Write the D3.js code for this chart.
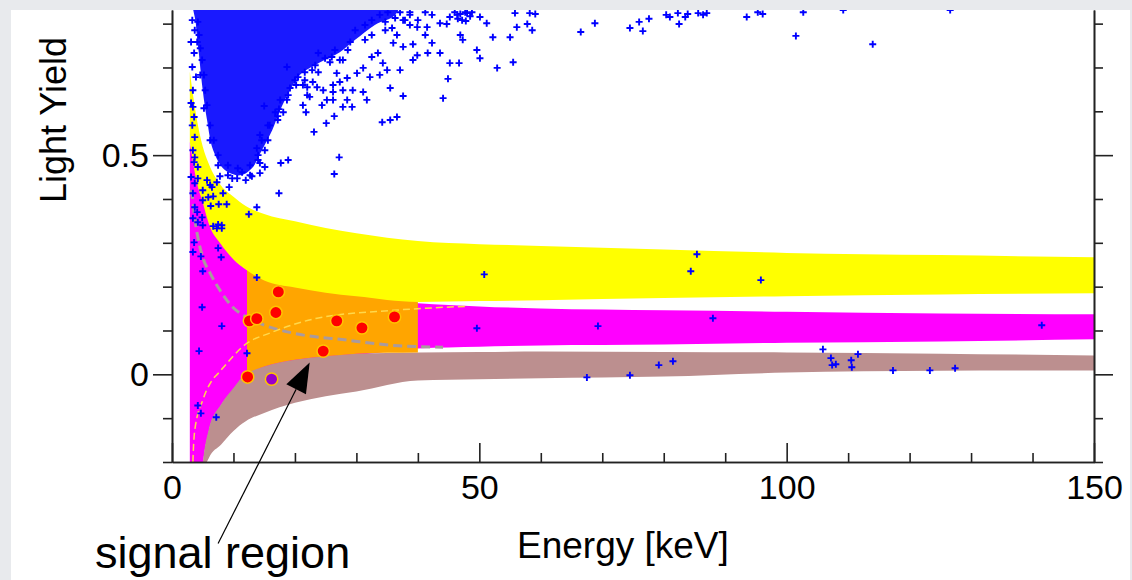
<!DOCTYPE html>
<html>
<head>
<meta charset="utf-8">
<script src="https://cdn.jsdelivr.net/npm/d3@7"></script>
<style>
body{margin:0;background:#e8eaed;}
svg{display:block;font-family:"Liberation Sans",Arial,sans-serif;}
</style>
</head>
<body>
<div id="container"></div>
<script>
let w = 1132;
let h = 580;

// band edges (energy in keV -> light yield)
let bandE     = [2.9, 4, 5, 6, 8, 10, 12, 15, 20, 25, 30, 40, 50, 60, 80, 100, 125, 150];
let yellowHi  = [0.69, 0.585, 0.52, 0.48, 0.43, 0.405, 0.384, 0.366, 0.349, 0.334, 0.322, 0.304, 0.297, 0.293, 0.285, 0.277, 0.272, 0.267];
let yellowLo  = [0.53, 0.44, 0.392, 0.343, 0.296, 0.262, 0.239, 0.214, 0.198, 0.186, 0.178, 0.165, 0.167, 0.169, 0.174, 0.178, 0.182, 0.185];
let magentaHi = [0.53, 0.45, 0.40, 0.35, 0.30, 0.265, 0.24, 0.215, 0.195, 0.183, 0.175, 0.162, 0.155, 0.150, 0.146, 0.143, 0.139, 0.137];
let magentaLo = [-0.4, -0.4, -0.21, -0.13, -0.07, -0.035, 0.0, 0.015, 0.03, 0.038, 0.044, 0.059, 0.063, 0.066, 0.068, 0.072, 0.075, 0.080];
let brownHi   = [-0.6, -0.4, -0.205, -0.125, -0.068, -0.031, 0.002, 0.018, 0.033, 0.041, 0.047, 0.050, 0.051, 0.052, 0.051, 0.050, 0.047, 0.043];
let brownLo   = [-0.8, -0.5, -0.23, -0.191, -0.16, -0.129, -0.107, -0.088, -0.065, -0.050, -0.039, -0.014, -0.011, -0.009, -0.005, 0.004, 0.008, 0.009];

// signal (acceptance) region
let orangeE  = [12.2, 15, 20, 25, 30, 35, 40];
let orangeHi = [0.243, 0.218, 0.202, 0.19, 0.182, 0.174, 0.169];
let orangeLo = [0.004, 0.018, 0.033, 0.041, 0.047, 0.049, 0.050];

// dashed curves
let greyDashE    = [3.1, 3.4, 3.7, 4.2, 5.0, 6.2, 7.8, 9.9, 12.2, 14.3, 19.7, 28.5, 36.0, 44.1];
let greyDashLY   = [0.42, 0.397, 0.358, 0.313, 0.267, 0.231, 0.192, 0.153, 0.130, 0.116, 0.094, 0.078, 0.066, 0.062];
let yellowDashE  = [3.3, 3.4, 3.7, 5.0, 6.5, 7.5, 12.2, 15.9, 23.6, 36.0, 47.7];
let yellowDashLY = [-0.25, -0.2, -0.128, -0.059, -0.014, 0.002, 0.071, 0.094, 0.128, 0.146, 0.155];

// accepted events
let candE   = [17.3, 16.9, 12.6, 13.8, 26.8, 30.9, 36.2, 24.6, 12.3];
let candLY  = [0.188, 0.141, 0.122, 0.127, 0.122, 0.106, 0.131, 0.053, -0.006];
let purpleE  = [16.2];
let purpleLY = [-0.011];

// dense core of the e/gamma cloud (outline)
let coreE  = [3.9, 37.1, 36.3, 33.0, 29.8, 27.3, 24.1, 20.8, 19.2, 17.6, 16.3, 14.6, 13.0, 11.1, 8.6, 6.7, 5.7, 5.0, 4.4, 3.9];
let coreLY = [0.865, 0.865, 0.820, 0.797, 0.763, 0.735, 0.712, 0.683, 0.648, 0.603, 0.557, 0.511, 0.470, 0.454, 0.466, 0.511, 0.580, 0.648, 0.728, 0.797];

// single events in the bands
let bandCrosses = [
  [50.8,0.228],[85.4,0.274],[84.4,0.235],[95.8,0.215],[49.6,0.105],[69.3,0.110],[88.0,0.128],[67.5,-0.007],[74.5,-0.002],[79.2,0.021],[81.5,0.030],
  [141.5,0.112],[105.9,0.057],[107.2,0.037],[107.4,0.021],[108.0,0.023],[110.5,0.032],[111.6,0.046],[110.6,0.016],[117.3,0.009],[123.3,0.009],[127.4,0.014],
  [13.8,0.381],[12.5,0.365],[8.9,0.388],[7.6,0.388],[6.3,0.384],
  [7.5,0.342],[8.1,0.340],[7.3,0.333],[8.1,0.333],[6.7,0.338],
  [3.7,0.381],[4.1,0.370],[3.4,0.356],[4.9,0.358],[4.2,0.347],[5.0,0.340],
  [3.6,0.301],[3.4,0.279],[4.7,0.269],[7.5,0.288],[8.0,0.267],[5.0,0.235],[13.8,0.221],[4.9,0.153],[8.1,0.110],[4.4,0.053],[12.2,0.048],[4.2,-0.071],[4.7,-0.089],[7.2,-0.098]
];

// events around the dense cloud
let cloudCrosses = [
  [3.3,0.808],[3.7,0.785],[3.1,0.758],[3.6,0.733],[3.3,0.701],[3.9,0.678],[3.4,0.648],[3.1,0.619],
  [3.4,0.610],[3.6,0.587],[3.3,0.568],[3.7,0.541],[3.4,0.511],[3.6,0.484],[3.1,0.450],[3.7,0.436],[3.4,0.413],
  [3.7,0.495],[4.2,0.473],[5.7,0.443],[6.2,0.432],[7.8,0.452],[6.7,0.406],[4.2,0.447],[5.0,0.397],
  [15.0,0.612],[15.9,0.568],[17.2,0.589],[17.4,0.605],[14.3,0.546],[13.8,0.516],[14.3,0.482],[15.1,0.473],[13.0,0.452],[11.4,0.461],[10.6,0.447],[9.3,0.427],[9.1,0.454],[7.3,0.438],[8.3,0.413],[5.9,0.404],[6.5,0.427],[5.0,0.420],[14.3,0.459],[18.9,0.489],[17.7,0.482],[17.4,0.413],[23.1,0.553],[27.2,0.495],[26.4,0.457],[21.3,0.614],[21.8,0.598],[24.4,0.614],[25.1,0.573],[26.4,0.589],[27.8,0.610],
  [42.3,0.820],[43.6,0.801],[44.7,0.799],[41.5,0.792],[39.9,0.792],[38.7,0.797],[37.6,0.808],[41.2,0.774],[42.3,0.756],[39.2,0.753],[41.6,0.733],[43.6,0.733],[47.3,0.763],[46.9,0.774],[49.6,0.740],[50.1,0.721],[45.2,0.710],[46.7,0.710],[52.9,0.699],[44.9,0.674],[44.1,0.630],[37.6,0.635],[35.5,0.653],[33.8,0.683],[32.2,0.678],[31.1,0.644],[31.7,0.626],[29.4,0.648],[28.5,0.626],[27.8,0.648],[26.2,0.644],[24.6,0.648],[23.6,0.655],[22.0,0.655],[22.4,0.633],[26.2,0.626],[29.3,0.610],[39.2,0.717],[39.9,0.728],[37.1,0.694],[35.0,0.694],[36.0,0.756],[37.6,0.747],[36.6,0.774],[33.5,0.733],[34.3,0.710],[32.5,0.724],[31.1,0.699],[30.1,0.687],[28.5,0.676],[27.3,0.667],[52.2,0.769],[51.2,0.801],[50.1,0.815],[46.4,0.820],[48.0,0.824],[47.2,0.808],
  [21.3,0.660],[22.9,0.667],[26.2,0.660],[25.2,0.626],[22.0,0.637],[18.9,0.637],[20.5,0.678],[23.8,0.689],[26.8,0.687],[27.8,0.717],[18.7,0.701],[26.0,0.724],[23.8,0.733],
  [68.8,0.801],[66.5,0.781],[74.5,0.790],[76.0,0.804],[76.6,0.783],[77.6,0.811],[80.4,0.820],[81.0,0.815],[82.3,0.824],[82.5,0.799],[83.5,0.815],[83.9,0.822],[85.6,0.824],[86.4,0.820],[87.0,0.824],[93.5,0.815],[95.3,0.826],[96.1,0.822],[101.5,0.772],[55.5,0.712],[55.0,0.769],[56.1,0.792],[57.8,0.799],[58.6,0.785],[55.8,0.824],[58.2,0.824],[59.1,0.822],
  [102.7,0.826],[109.2,0.831],[126.6,0.831],[114.0,0.753],
  [34.2,0.575],[35.5,0.580],[36.6,0.587],
  [29.8,0.785],[31.4,0.797],[32.5,0.808],[33.8,0.820],[34.7,0.804],[29.0,0.758],[26.5,0.740],[24.9,0.721],[23.3,0.705],[21.6,0.689],[20.0,0.671],[19.2,0.653],[17.6,0.626],[16.8,0.598],[15.6,0.568],[14.6,0.534],[14.0,0.500],[12.7,0.477],[10.7,0.470],[9.1,0.477],[7.5,0.500],[6.8,0.534],[6.2,0.568],[5.7,0.614],[5.4,0.648],[5.2,0.683],[4.9,0.717],[4.6,0.744],[4.4,0.774],[4.2,0.804],
  [35.1,0.826],[36.3,0.813],[37.1,0.826],[38.7,0.820],[40.0,0.808],[41.2,0.826],[46.0,0.826],[46.9,0.822],[47.7,0.826],[48.5,0.817],[46.5,0.811],[47.8,0.806],[48.8,0.826],[45.2,0.815],
  [37.9,0.808],[34.7,0.785],[31.4,0.763],[28.6,0.740],[25.7,0.712],[22.8,0.694],[20.2,0.660],[18.7,0.626],[17.2,0.580],[15.6,0.534],[14.0,0.489],[12.0,0.443],[9.8,0.447],[7.5,0.477],[6.2,0.534],[5.2,0.607],[4.6,0.683],[4.1,0.758],[38.7,0.826],[35.8,0.790],[32.5,0.774],[27.3,0.717],[21.6,0.671],[18.1,0.598],[15.1,0.511],[12.7,0.454]
];

// ticks
let xMajor = [0, 50, 100, 150];
let xMinor = [10, 20, 30, 40, 60, 70, 80, 90, 110, 120, 130, 140];
let yMajor = [0, 0.5];
let yMinor = [-0.2, -0.1, 0.1, 0.2, 0.3, 0.4, 0.6, 0.7, 0.8];

// arrow to the signal region
let arrowTail = [7.5, -0.386];
let arrowTip  = [22.4, 0.027];

let viz = d3.select("#container").append("svg")
  .attr("width", w)
  .attr("height", h);

viz.append("rect").attr("width", w).attr("height", h).attr("fill", "#e8eaed");
viz.append("rect").attr("x", 11).attr("y", 10).attr("width", 1119).attr("height", h - 10).attr("fill", "white");

let x = d3.scaleLinear().domain([0, 150]).range([172, 1094]);
let y = d3.scaleLinear().domain([-0.2, 0.8311]).range([462, 10]);

viz.append("clipPath").attr("id", "plotclip")
  .append("rect").attr("x", 172).attr("y", 10).attr("width", 922).attr("height", 452);

let plot = viz.append("g").attr("clip-path", "url(#plotclip)");

function band(es, lo, hi){
  return es.map(function(e, i){ return {e: e, lo: lo[i], hi: hi[i]}; });
}
let areaMaker = d3.area()
  .x(function(d){ return x(d.e); })
  .y0(function(d){ return y(d.lo); })
  .y1(function(d){ return y(d.hi); })
  .curve(d3.curveMonotoneX);

plot.append("path").attr("d", areaMaker(band(bandE, magentaLo, magentaHi))).attr("fill", "#ff00ff");
plot.append("path").attr("d", areaMaker(band(bandE, brownLo, brownHi))).attr("fill", "#bc8f8f");
plot.append("path").attr("d", areaMaker(band(orangeE, orangeLo, orangeHi))).attr("fill", "#ffa500");
plot.append("path").attr("d", areaMaker(band(bandE, yellowLo, yellowHi))).attr("fill", "#ffff00");

let lineMaker = d3.line()
  .x(function(d){ return x(d[0]); })
  .y(function(d){ return y(d[1]); })
  .curve(d3.curveMonotoneX);

plot.append("path")
  .attr("d", lineMaker(greyDashE.map(function(e, i){ return [e, greyDashLY[i]]; })))
  .attr("fill", "none").attr("stroke", "#a99a9e").attr("stroke-width", 3).attr("stroke-dasharray", "9,5");
plot.append("path")
  .attr("d", lineMaker(yellowDashE.map(function(e, i){ return [e, yellowDashLY[i]]; })))
  .attr("fill", "none").attr("stroke", "#ffd84a").attr("stroke-width", 1.5).attr("stroke-dasharray", "7,4");

// dense part of the cloud
plot.append("path")
  .attr("d", d3.line().x(function(d){ return x(d[0]); }).y(function(d){ return y(d[1]); })
    .curve(d3.curveCatmullRomClosed)
    (coreE.map(function(e, i){ return [e, coreLY[i]]; })))
  .attr("fill", "#0000ff").attr("fill-opacity", 0.9);

let crossPath = "M-3.5,0H3.5M0,-3.5V3.5";
plot.selectAll(".cross").data(cloudCrosses.concat(bandCrosses)).enter()
  .append("path")
  .attr("class", "cross")
  .attr("d", crossPath)
  .attr("transform", function(d){ return "translate(" + x(d[0]) + "," + y(d[1]) + ")"; })
  .attr("stroke", "#0000ff")
  .attr("stroke-width", 1.9);

plot.selectAll(".cand").data(candE).enter()
  .append("circle")
  .attr("class", "cand")
  .attr("cx", function(d){ return x(d); })
  .attr("cy", function(d, i){ return y(candLY[i]); })
  .attr("r", 6.2)
  .attr("fill", "#ff0000")
  .attr("stroke", "#ffc400")
  .attr("stroke-width", 1.5);

plot.selectAll(".odd").data(purpleE).enter()
  .append("circle")
  .attr("class", "odd")
  .attr("cx", function(d){ return x(d); })
  .attr("cy", function(d, i){ return y(purpleLY[i]); })
  .attr("r", 6.2)
  .attr("fill", "#9900cc")
  .attr("stroke", "#ffc400")
  .attr("stroke-width", 1.5);

// axes
function styleAxis(g){
  g.attr("font-family", "'Liberation Sans', Arial, sans-serif").attr("font-size", 34);
  g.selectAll(".domain").attr("stroke", "#222").attr("stroke-width", 1.6);
  g.selectAll(".tick line").attr("stroke", "#222").attr("stroke-width", 1.6);
  g.selectAll(".tick text").attr("fill", "black");
}

let bottomY = y(-0.2);
viz.append("g").attr("transform", "translate(0," + bottomY + ")")
  .call(d3.axisBottom(x).tickValues(xMinor).tickSize(-9).tickSizeOuter(0).tickFormat(""))
  .call(styleAxis);
viz.append("g").attr("transform", "translate(0," + bottomY + ")")
  .call(d3.axisBottom(x).tickValues(xMajor).tickSize(-19).tickSizeOuter(0).tickPadding(13).tickFormat(d3.format("d")))
  .call(styleAxis);

viz.append("g").attr("transform", "translate(172,0)")
  .call(d3.axisLeft(y).tickValues(yMinor).tickSize(9).tickSizeOuter(0).tickFormat(""))
  .call(styleAxis);
viz.append("g").attr("transform", "translate(172,0)")
  .call(d3.axisLeft(y).tickValues(yMajor).tickSize(19).tickSizeOuter(0).tickPadding(4)
    .tickFormat(function(d){ return d === 0 ? "0" : d3.format(".1f")(d); }))
  .call(styleAxis);

viz.append("g").attr("transform", "translate(1094,0)")
  .call(d3.axisRight(y).tickValues(yMinor).tickSize(9).tickSizeOuter(0).tickFormat(""))
  .call(styleAxis);
viz.append("g").attr("transform", "translate(1094,0)")
  .call(d3.axisRight(y).tickValues(yMajor).tickSize(19).tickSizeOuter(0).tickFormat(""))
  .call(styleAxis);

// titles
viz.append("text")
  .attr("transform", "translate(66,120) rotate(-90)")
  .attr("text-anchor", "middle")
  .attr("font-size", 36)
  .text("Light Yield");

viz.append("text")
  .attr("x", 517).attr("y", 558)
  .attr("font-size", 37)
  .text("Energy [keV]");

viz.append("text")
  .attr("x", 95).attr("y", 568)
  .attr("font-size", 45)
  .text("signal region");

// arrow
let tx = x(arrowTail[0]), ty = y(arrowTail[1]);
let hx = x(arrowTip[0]), hy = y(arrowTip[1]);
let len = Math.hypot(hx - tx, hy - ty);
let ux = (hx - tx) / len, uy = (hy - ty) / len;
let bx = hx - ux * 30, by = hy - uy * 30;
viz.append("line")
  .attr("x1", tx).attr("y1", ty).attr("x2", bx).attr("y2", by)
  .attr("stroke", "black").attr("stroke-width", 1.2);
viz.append("path")
  .attr("d", "M" + hx + "," + hy + "L" + (bx - uy * 11) + "," + (by + ux * 11) + "L" + (bx + uy * 11) + "," + (by - ux * 11) + "Z")
  .attr("fill", "black");
</script>
</body>
</html>
